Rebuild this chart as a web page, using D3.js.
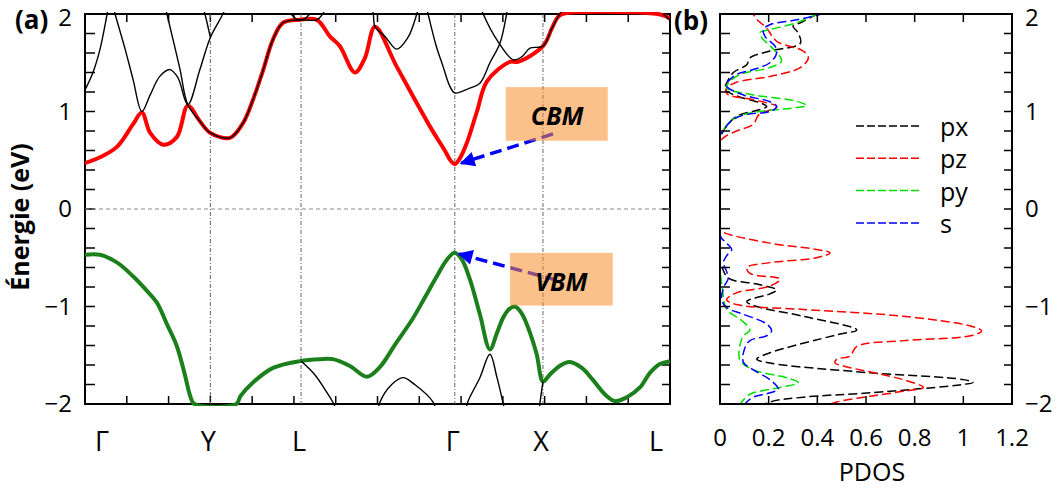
<!DOCTYPE html>
<html lang="fr">
<head>
<meta charset="UTF-8">
<title>Structure de bandes et PDOS</title>
<script src="https://d3js.org/d3.v7.min.js"></script>
<style>
  body { margin: 0; background: #fff; }
  svg { display: block; font-family: "Open Sans", "DejaVu Sans", sans-serif; }
  .spine { fill: none; stroke: #000; stroke-width: 2; }
  .tick-mark { stroke: #000; stroke-width: 1.5; }
  .band { fill: none; stroke: #000; stroke-width: 1.4; }
  .cb-band { fill: none; stroke: #ff0000; stroke-width: 4; }
  .vb-band { fill: none; stroke: #1b7f1b; stroke-width: 4; }
  .kline { stroke: #666; stroke-width: 1; stroke-dasharray: 4,2,1,2; }
  .zero-line { stroke: #888; stroke-width: 1; stroke-dasharray: 4,3; }
  .pdos-line { fill: none; stroke-width: 1.5; stroke-dasharray: 9,4; }
  .tick-label { font-size: 24px; fill: #000; }
</style>
</head>
<body>
<div id="chart"></div>
<script>
// high symmetry points along the k-path
const kPoints = [0, 3.0, 5.17, 8.85, 10.96, 14];
const kLabels = ["Γ", "Y", "L", "Γ", "X", "L"];

// lowest conduction band (red) and highest valence band (green), [k, E]
// (values outside the window are kept at the border, as in the original plot)
const cbBand = [[0,0.47],[0.36,0.53],[0.77,0.64],[1.15,0.87],[1.36,0.99],[1.56,0.78],[1.87,0.66],[2.20,0.74],[2.46,1.06],[2.75,0.90],[3.0,0.78],[3.47,0.73],[3.78,0.88],[4.02,1.12],[4.26,1.42],[4.50,1.74],[4.74,1.91],[5.14,1.94],[5.55,1.94],[5.86,1.77],[6.10,1.67],[6.46,1.40],[6.70,1.55],[6.94,1.87],[7.46,1.46],[8.25,0.85],[8.61,0.60],[8.76,0.49],[8.85,0.46],[8.97,0.52],[9.14,0.68],[9.38,1.0],[9.62,1.31],[10.17,1.51],[10.36,1.51],[10.96,1.67],[11.17,1.85],[11.30,1.96],[11.42,2.0],[13.70,2.0],[13.88,1.98],[14,1.95]];
const vbBand = [[0,-0.47],[0.36,-0.47],[0.77,-0.55],[1.15,-0.69],[1.44,-0.82],[1.72,-0.96],[1.96,-1.18],[2.20,-1.41],[2.39,-1.70],[2.52,-1.92],[2.62,-2.0],[3.62,-2.0],[3.72,-1.92],[4.02,-1.78],[4.50,-1.63],[5.14,-1.56],[5.62,-1.54],[5.93,-1.54],[6.34,-1.61],[6.75,-1.72],[7.06,-1.62],[7.42,-1.39],[7.85,-1.12],[8.13,-0.91],[8.42,-0.69],[8.66,-0.52],[8.85,-0.45],[9.02,-0.52],[9.21,-0.72],[9.45,-1.08],[9.69,-1.44],[9.86,-1.27],[10.0,-1.12],[10.14,-1.03],[10.29,-1.0],[10.45,-1.07],[10.65,-1.27],[10.81,-1.49],[10.96,-1.77],[11.12,-1.70],[11.36,-1.61],[11.60,-1.57],[11.89,-1.63],[12.15,-1.75],[12.44,-1.90],[12.68,-1.97],[12.97,-1.93],[13.28,-1.83],[13.52,-1.68],[13.76,-1.59],[14,-1.56]];

// other bands (thin black), [k, E]
const otherBands = [
  [[0,1.22],[0.19,1.40],[0.36,1.64],[0.53,2.0],[0.60,2.15]],
  [[0.66,2.1],[0.72,2.0],[0.96,1.64],[1.15,1.33],[1.36,1.0],[1.56,1.17],[1.79,1.36],[2.03,1.43],[2.22,1.35],[2.46,1.07],[2.75,1.43],[3.0,1.76],[3.30,2.0],[3.40,2.1]],
  [[2.80,2.1],[2.87,2.0],[3.0,1.76]],
  [[1.90,2.1],[1.96,2.0],[2.27,1.44],[2.46,1.07],[2.75,0.90],[3.0,0.78],[3.47,0.73],[3.78,0.88],[4.02,1.12],[4.26,1.42],[4.50,1.74],[4.74,1.91],[5.14,1.94],[5.55,1.94],[5.69,2.0],[5.80,2.1]],
  [[4.93,2.0],[5.10,1.94],[5.25,1.95],[5.38,2.0]],
  [[6.85,2.1],[6.90,2.0],[6.94,1.87],[7.18,1.77],[7.46,1.64],[7.73,1.76],[7.94,2.0],[8.0,2.1]],
  [[8.15,2.1],[8.21,2.0],[8.40,1.68],[8.57,1.46],[8.73,1.26],[8.85,1.19],[9.21,1.24],[9.45,1.29],[9.69,1.50],[9.93,1.70],[10.09,2.0],[10.13,2.1]],
  [[9.45,2.1],[9.53,2.0],[9.88,1.72],[10.25,1.53],[10.45,1.56],[10.65,1.65],[10.96,1.67],[11.17,1.85],[11.36,2.0],[11.50,2.1]],
  [[13.84,2.0],[14,1.94]],
  [[5.17,-1.56],[5.50,-1.70],[5.74,-1.85],[5.93,-1.98],[6.03,-2.08]],
  [[7.01,-2.08],[7.06,-1.98],[7.34,-1.80],[7.61,-1.73],[7.89,-1.80],[8.33,-1.98],[8.40,-2.08]],
  [[9.11,-2.08],[9.16,-1.98],[9.45,-1.73],[9.69,-1.49],[9.86,-1.73],[10.0,-1.98],[10.05,-2.08]],
  [[10.86,-2.08],[10.89,-1.98],[10.96,-1.77]]
];

// projected DOS, [E, PDOS]
const pdosNames = ["px", "pz", "py", "s"];
const pdosColors = ["#000000", "#ff0000", "#00e000", "#0000ff"];
const pdosPx = [[2.05,0.45],[1.995,0.397],[1.91,0.33],[1.875,0.30],[1.81,0.32],[1.70,0.33],[1.62,0.205],[1.55,0.123],[1.48,0.11],[1.40,0.055],[1.29,0.027],[1.23,0.02],[1.16,0.068],[1.09,0.164],[1.05,0.192],[1.02,0.164],[0.95,0.068],[0.85,0.027],[0.80,0.014],[0.71,0],[-0.55,0],[-0.59,0.007],[-0.71,0.034],[-0.77,0.151],[-0.83,0.233],[-0.87,0.205],[-0.95,0.11],[-1.0,0.151],[-1.10,0.342],[-1.24,0.562],[-1.29,0.48],[-1.475,0.205],[-1.54,0.151],[-1.58,0.205],[-1.68,0.616],[-1.75,1.0],[-1.78,1.04],[-1.80,1.0],[-1.885,0.616],[-1.93,0.342],[-1.98,0.205],[-2.05,0.15]];
const pdosPz = [[2.05,0.12],[1.995,0.137],[1.93,0.157],[1.86,0.19],[1.72,0.233],[1.62,0.342],[1.55,0.363],[1.45,0.33],[1.36,0.205],[1.30,0.068],[1.24,0.027],[1.18,0.03],[1.12,0.137],[1.05,0.233],[0.99,0.178],[0.96,0.157],[0.87,0.137],[0.80,0.068],[0.73,0.014],[0.68,0],[-0.21,0],[-0.24,0.014],[-0.35,0.205],[-0.415,0.397],[-0.45,0.452],[-0.50,0.397],[-0.55,0.205],[-0.60,0.11],[-0.66,0.123],[-0.72,0.247],[-0.79,0.205],[-0.86,0.068],[-0.93,0.027],[-0.98,0.068],[-1.03,0.342],[-1.10,0.753],[-1.20,1.03],[-1.25,1.075],[-1.30,1.03],[-1.35,0.753],[-1.41,0.562],[-1.51,0.534],[-1.54,0.48],[-1.58,0.473],[-1.61,0.507],[-1.75,0.753],[-1.83,0.836],[-1.87,0.753],[-1.92,0.616],[-1.98,0.48],[-2.05,0.4]];
const pdosPy = [[2.05,0.45],[1.995,0.397],[1.91,0.315],[1.84,0.205],[1.81,0.164],[1.76,0.171],[1.64,0.219],[1.52,0.253],[1.45,0.205],[1.38,0.082],[1.29,0.034],[1.24,0.027],[1.17,0.137],[1.105,0.315],[1.06,0.356],[1.04,0.315],[0.99,0.137],[0.94,0.068],[0.86,0.027],[0.81,0.014],[0.76,0],[-0.59,0],[-0.82,0.01],[-1.03,0.027],[-1.13,0.082],[-1.24,0.123],[-1.30,0.096],[-1.40,0.082],[-1.55,0.082],[-1.65,0.137],[-1.73,0.274],[-1.78,0.322],[-1.83,0.247],[-1.90,0.123],[-1.98,0.089],[-2.05,0.07]];
const pdosS = [[2.05,0.48],[1.995,0.41],[1.94,0.315],[1.89,0.205],[1.84,0.178],[1.77,0.185],[1.67,0.226],[1.60,0.233],[1.50,0.205],[1.43,0.137],[1.38,0.068],[1.31,0.034],[1.26,0.027],[1.17,0.096],[1.10,0.205],[1.05,0.233],[1.00,0.205],[0.97,0.11],[0.92,0.055],[0.83,0.02],[0.78,0.007],[0.75,0],[-0.27,0],[-0.35,0.027],[-0.415,0.048],[-0.48,0.027],[-0.55,0.014],[-0.64,0.027],[-0.71,0.034],[-0.81,0.014],[-0.93,0.007],[-1.01,0.027],[-1.08,0.096],[-1.18,0.192],[-1.25,0.212],[-1.30,0.192],[-1.35,0.123],[-1.44,0.10],[-1.57,0.096],[-1.65,0.137],[-1.75,0.205],[-1.85,0.24],[-1.885,0.205],[-1.93,0.137],[-1.98,0.11],[-2.05,0.09]];

// annotations (data coordinates)
const annotations = [
  { label: "CBM", box: [10.07, 12.51, 1.25, 0.70], text: [11.3, 0.95], from: [11.2, 0.77], to: [9.0, 0.47] },
  { label: "VBM", box: [10.17, 12.63, -0.45, -0.99], text: [11.4, -0.75], from: [11.29, -0.73], to: [8.95, -0.46] }
];

const width = 1059, height = 490;
const plotTop = 14, plotBottom = 404;

const svg = d3.select("#chart").append("svg")
  .attr("width", width)
  .attr("height", height);

const yScale = d3.scaleLinear().domain([-2, 2]).range([plotBottom, plotTop]);
const kScale = d3.scaleLinear().domain([0, 14]).range([85, 670]);
const pdosScale = d3.scaleLinear().domain([0, 1.2]).range([720, 1012]);

const defs = svg.append("defs");
function addClip(id, x0, x1, pad) {
  defs.append("clipPath").attr("id", id)
    .append("rect")
    .attr("x", x0).attr("y", plotTop - pad)
    .attr("width", x1 - x0).attr("height", plotBottom - plotTop + 2 * pad);
}
addClip("clip-bands", kScale.range()[0], kScale.range()[1], 2);
addClip("clip-pdos", pdosScale.range()[0], pdosScale.range()[1], 0);

defs.append("marker")
  .attr("id", "arrow-head")
  .attr("viewBox", "0 0 10 10")
  .attr("refX", 9).attr("refY", 5)
  .attr("markerWidth", 21).attr("markerHeight", 15)
  .attr("markerUnits", "userSpaceOnUse")
  .attr("orient", "auto")
  .append("path")
  .attr("d", "M0,0 L10,5 L0,10 Z")
  .attr("fill", "#0000ff")
  .attr("stroke", "none");

// frame with inward ticks on all four sides
function drawFrame(x0, x1, xTickPx) {
  const g = svg.append("g");
  const yTicks = yScale.ticks(20);
  yTicks.forEach(v => {
    const y = yScale(v);
    g.append("line").attr("class", "tick-mark").attr("x1", x0).attr("x2", x0 + 10).attr("y1", y).attr("y2", y);
    g.append("line").attr("class", "tick-mark").attr("x1", x1).attr("x2", x1 - 8).attr("y1", y).attr("y2", y);
  });
  xTickPx.forEach(x => {
    g.append("line").attr("class", "tick-mark").attr("x1", x).attr("x2", x).attr("y1", plotBottom).attr("y2", plotBottom - 8);
    g.append("line").attr("class", "tick-mark").attr("x1", x).attr("x2", x).attr("y1", plotTop).attr("y2", plotTop + 8);
  });
  g.append("rect").attr("class", "spine")
    .attr("x", x0).attr("y", plotTop)
    .attr("width", x1 - x0).attr("height", plotBottom - plotTop);
}

// energy tick labels; the top one is nudged down so it stays on the page
function drawEnergyLabels(x, anchor) {
  svg.append("g").selectAll("text")
    .data(yScale.ticks(4))
    .enter().append("text")
    .attr("class", "tick-label")
    .attr("x", x)
    .attr("y", d => Math.max(yScale(d), plotTop + 4))
    .attr("dy", "0.35em")
    .attr("text-anchor", anchor)
    .text(d3.format("d"));
}

// ---------- panel (a): band structure ----------
const bandLine = d3.line()
  .x(d => kScale(d[0]))
  .y(d => yScale(d[1]))
  .curve(d3.curveCatmullRom.alpha(0.5));

// border first: the bands run over it where they leave the window
drawFrame(kScale.range()[0], kScale.range()[1], kScale.ticks(14).map(kScale));

const bandG = svg.append("g").attr("clip-path", "url(#clip-bands)");

bandG.selectAll(".kline")
  .data(kPoints.slice(1, -1))
  .enter().append("line")
  .attr("class", "kline")
  .attr("x1", d => kScale(d)).attr("x2", d => kScale(d))
  .attr("y1", plotTop).attr("y2", plotBottom);

bandG.append("line").attr("class", "zero-line")
  .attr("x1", kScale(0)).attr("x2", kScale(14))
  .attr("y1", yScale(0)).attr("y2", yScale(0));

bandG.append("path").attr("class", "cb-band").attr("d", bandLine(cbBand));
bandG.append("path").attr("class", "vb-band").attr("d", bandLine(vbBand));

bandG.selectAll(".band")
  .data(otherBands)
  .enter().append("path")
  .attr("class", "band")
  .attr("d", d => bandLine(d));

// annotation arrows, then semi-transparent boxes on top
annotations.forEach(a => {
  bandG.append("line")
    .attr("x1", kScale(a.from[0])).attr("y1", yScale(a.from[1]))
    .attr("x2", kScale(a.to[0])).attr("y2", yScale(a.to[1]))
    .attr("stroke", "#0000ff")
    .attr("stroke-width", 3.5)
    .attr("stroke-dasharray", "12,6")
    .attr("marker-end", "url(#arrow-head)");
});
annotations.forEach(a => {
  bandG.append("rect")
    .attr("x", kScale(a.box[0])).attr("y", yScale(a.box[2]))
    .attr("width", kScale(a.box[1]) - kScale(a.box[0]))
    .attr("height", yScale(a.box[3]) - yScale(a.box[2]))
    .attr("fill", "#f98d2a")
    .attr("fill-opacity", 0.55);
  bandG.append("text")
    .attr("x", kScale(a.text[0])).attr("y", yScale(a.text[1]))
    .attr("dy", "0.35em")
    .attr("text-anchor", "middle")
    .style("font-size", "25px")
    .style("font-weight", "bold")
    .style("font-style", "italic")
    .text(a.label);
});

drawEnergyLabels(kScale.range()[0] - 13, "end");

svg.append("g").selectAll("text")
  .data(kPoints)
  .enter().append("text")
  .attr("x", d => kScale(d))
  .attr("y", 451)
  .attr("dx", (d, i) => i === 0 ? 10 : (i === kPoints.length - 1 ? -7 : -2))
  .attr("text-anchor", (d, i) => i === 0 ? "start" : (i === kPoints.length - 1 ? "end" : "middle"))
  .style("font-size", "27px")
  .text((d, i) => kLabels[i]);

svg.append("text")
  .attr("transform", "translate(29,217) rotate(-90)")
  .attr("text-anchor", "middle")
  .style("font-size", "25px")
  .style("font-weight", "bold")
  .text("Énergie (eV)");

svg.append("text").attr("x", 15).attr("y", 29)
  .style("font-size", "26px").style("font-weight", "bold").text("(a)");

// ---------- panel (b): PDOS ----------
const pdosSeries = [pdosPx, pdosPz, pdosPy, pdosS];
const pdosLine = d3.line()
  .x(d => pdosScale(d[1]))
  .y(d => yScale(d[0]))
  .curve(d3.curveCatmullRom.alpha(0.5));

svg.append("g").attr("clip-path", "url(#clip-pdos)")
  .selectAll(".pdos-line")
  .data(pdosSeries)
  .enter().append("path")
  .attr("class", "pdos-line")
  .attr("stroke", (d, i) => pdosColors[i])
  .attr("d", d => pdosLine(d));

drawFrame(pdosScale.range()[0], pdosScale.range()[1], pdosScale.ticks(6).map(pdosScale));
drawEnergyLabels(pdosScale.range()[1] + 13, "start");

svg.append("g").selectAll("text")
  .data(pdosScale.ticks(6))
  .enter().append("text")
  .attr("class", "tick-label")
  .attr("x", d => pdosScale(d))
  .attr("y", 446)
  .attr("text-anchor", "middle")
  .text(d3.format("~g"));

svg.append("text")
  .attr("x", 872).attr("y", 481)
  .attr("text-anchor", "middle")
  .style("font-size", "25px")
  .text("PDOS");

svg.append("text").attr("x", 674).attr("y", 30)
  .style("font-size", "26px").style("font-weight", "bold").text("(b)");

// legend
const legend = svg.append("g").selectAll("g")
  .data(pdosNames)
  .enter().append("g")
  .attr("transform", (d, i) => `translate(856, ${126 + i * 32.3})`);
legend.append("line")
  .attr("x1", 0).attr("x2", 63)
  .attr("stroke", (d, i) => pdosColors[i])
  .attr("stroke-width", 1.5)
  .attr("stroke-dasharray", "8,3");
legend.append("text")
  .attr("x", 84).attr("y", 10)
  .style("font-size", "25px")
  .text(d => d);
</script>
</body>
</html>
